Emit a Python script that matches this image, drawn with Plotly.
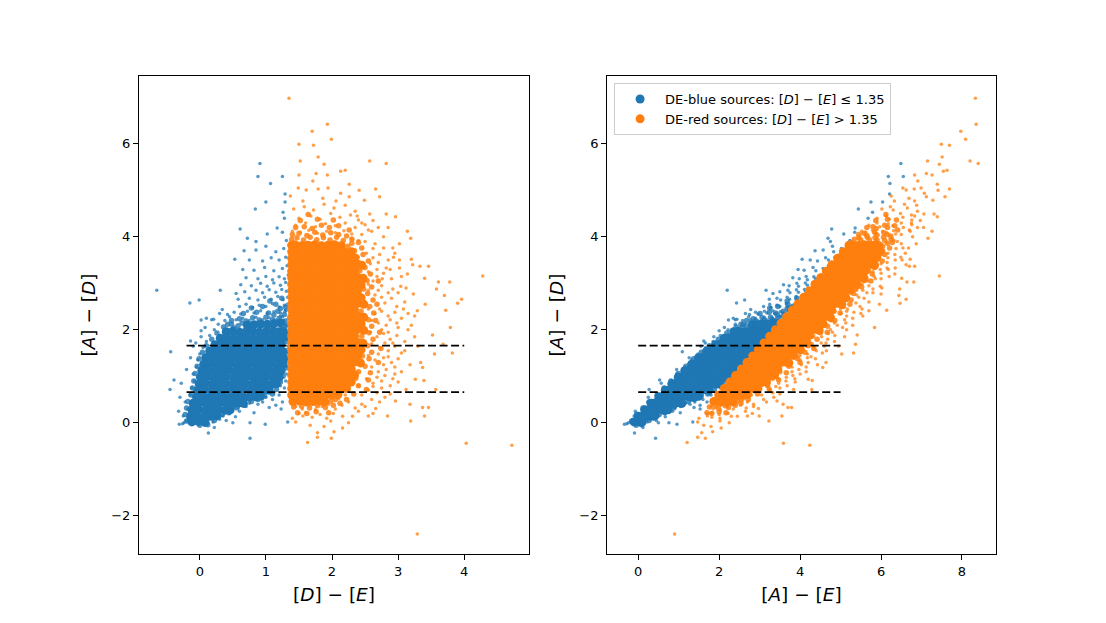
import plotly.graph_objects as go

# ---- data: (D-E, A-D) pairs; A-E = (A-D) + (D-E) ----
blue_core = [
    (0.72, 2.10), (0.82, 2.11), (0.92, 2.12), (1.02, 2.12), (1.12, 2.13), (1.22, 2.15),
    (0.40, 1.96), (0.50, 1.97), (0.60, 1.95), (0.70, 1.96), (0.80, 1.97), (0.90, 1.95), (1.00, 1.96), (1.10, 1.97), (1.19, 1.96), (1.26, 1.98),
    (0.31, 1.82), (0.41, 1.83), (0.51, 1.81), (0.61, 1.82), (0.71, 1.83), (0.81, 1.81), (0.91, 1.82), (1.01, 1.83), (1.11, 1.81), (1.21, 1.82), (1.27, 1.84),
    (0.23, 1.68), (0.33, 1.69), (0.43, 1.67), (0.53, 1.68), (0.63, 1.69), (0.73, 1.67), (0.83, 1.68), (0.93, 1.69), (1.03, 1.67), (1.13, 1.68), (1.23, 1.69),
    (0.15, 1.54), (0.25, 1.55), (0.35, 1.53), (0.45, 1.54), (0.55, 1.55), (0.65, 1.53), (0.75, 1.54), (0.85, 1.55), (0.95, 1.53), (1.05, 1.54), (1.15, 1.55), (1.25, 1.54),
    (0.09, 1.40), (0.19, 1.41), (0.29, 1.39), (0.39, 1.40), (0.49, 1.41), (0.59, 1.39), (0.69, 1.40), (0.79, 1.41), (0.89, 1.39), (0.99, 1.40), (1.09, 1.41), (1.19, 1.39), (1.27, 1.40),
    (0.06, 1.26), (0.16, 1.27), (0.26, 1.25), (0.36, 1.26), (0.46, 1.27), (0.56, 1.25), (0.66, 1.26), (0.76, 1.27), (0.86, 1.25), (0.96, 1.26), (1.06, 1.27), (1.16, 1.25), (1.26, 1.26),
    (0.03, 1.12), (0.13, 1.13), (0.23, 1.11), (0.33, 1.12), (0.43, 1.13), (0.53, 1.11), (0.63, 1.12), (0.73, 1.13), (0.83, 1.11), (0.93, 1.12), (1.03, 1.13), (1.13, 1.11), (1.23, 1.12),
    (0.01, 0.98), (0.11, 0.99), (0.21, 0.97), (0.31, 0.98), (0.41, 0.99), (0.51, 0.97), (0.61, 0.98), (0.71, 0.99), (0.81, 0.97), (0.91, 0.98), (1.01, 0.99), (1.11, 0.97), (1.20, 0.98),
    (-0.01, 0.84), (0.09, 0.85), (0.19, 0.83), (0.29, 0.84), (0.39, 0.85), (0.49, 0.83), (0.59, 0.84), (0.69, 0.85), (0.79, 0.83), (0.89, 0.84), (0.99, 0.85), (1.09, 0.83), (1.16, 0.84),
    (-0.03, 0.70), (0.07, 0.71), (0.17, 0.69), (0.27, 0.70), (0.37, 0.71), (0.47, 0.69), (0.57, 0.70), (0.67, 0.71), (0.77, 0.69), (0.87, 0.70), (0.97, 0.71), (1.05, 0.70),
    (-0.05, 0.56), (0.05, 0.57), (0.15, 0.55), (0.25, 0.56), (0.35, 0.57), (0.45, 0.55), (0.55, 0.56), (0.65, 0.57), (0.75, 0.55), (0.85, 0.56), (0.92, 0.57),
    (-0.10, 0.42), (0.00, 0.43), (0.10, 0.41), (0.20, 0.42), (0.30, 0.43), (0.40, 0.41), (0.50, 0.42), (0.60, 0.43), (0.66, 0.42),
    (-0.12, 0.28), (-0.02, 0.29), (0.08, 0.27), (0.18, 0.28), (0.28, 0.29), (0.38, 0.27), (0.46, 0.28),
    (-0.14, 0.14), (-0.04, 0.15), (0.06, 0.13), (0.16, 0.14), (0.26, 0.15),
    (-0.12, 0.02), (-0.02, 0.03), (0.08, 0.01),
]

blue_mid = [
    (0.48, 2.12), (0.58, 2.09), (0.64, 2.15), (0.52, 2.04),
    (0.48, 2.20), (0.60, 2.24), (0.70, 2.19), (0.80, 2.26), (0.90, 2.21), (1.00, 2.27), (1.10, 2.22), (1.20, 2.25),
    (1.29, 2.19), (0.66, 2.35), (0.86, 2.38), (1.04, 2.36), (1.18, 2.40), (1.28, 2.33), (0.95, 2.50), (1.15, 2.55),
    (1.30, 2.48), (0.78, 2.47), (1.24, 2.68), (1.06, 2.62), (1.31, 2.10), (1.31, 1.95), (1.31, 1.75), (1.31, 1.55),
    (1.31, 1.35), (1.30, 1.18), (1.12, 2.32), (1.22, 2.46),
    (0.36, 2.06), (0.26, 1.93), (0.18, 1.80), (0.10, 1.66), (0.04, 1.52), (-0.01, 1.38), (-0.04, 1.22), (-0.07, 1.06),
    (-0.09, 0.90), (-0.11, 0.75), (-0.13, 0.60), (-0.18, 0.46), (-0.20, 0.32), (-0.22, 0.18), (-0.20, 0.04), (0.42, 2.12),
    (0.00, -0.05), (0.12, -0.04), (0.22, 0.05), (0.34, 0.18), (0.44, 0.22), (0.56, 0.32), (0.68, 0.38), (0.78, 0.46),
    (0.88, 0.50), (0.98, 0.58), (1.10, 0.62), (1.16, 0.72), (1.22, 0.88), (1.26, 1.00), (0.20, 0.12), (0.52, 0.36),
]

blue_pts = [
    (-0.20, 0.05), (-0.25, 0.15), (-0.18, 0.30), (-0.22, 0.45), (-0.15, 0.60), (-0.12, 0.75), (-0.08, 0.90),
    (-0.10, 1.05), (-0.05, 1.20), (-0.03, 1.35), (0.00, 1.48), (0.05, 1.62), (0.10, 1.75), (0.15, 1.88),
    (0.22, 2.00), (0.28, 2.12), (0.38, 2.20), (0.45, 2.28), (-0.30, 0.55), (-0.28, 0.85), (-0.20, 1.15),
    (-0.14, 1.40), (-0.10, 1.65), (0.02, 1.85), (0.08, 2.05), (0.18, 2.22), (0.30, 2.35), (-0.14, 1.76),
    (-0.06, 1.72), (0.02, 1.98), (0.10, 2.25), (0.21, 2.23), (0.34, 2.44), (0.42, 2.33), (0.02, 2.21),
    (-0.26, -0.02), (-0.31, -0.03), (-0.24, 0.00), (0.22, -0.10), (0.13, -0.22), (0.76, -0.33), (0.50, 0.00),
    (0.76, 0.00), (0.99, -0.03), (1.33, 0.02), (1.23, 0.30), (1.05, 0.33), (0.82, 0.22), (0.54, 0.13),
    (0.40, 0.05), (0.35, 0.15), (0.60, 0.25), (0.70, 0.35), (0.95, 0.45), (1.10, 0.50), (1.20, 0.60),
    (1.28, 0.75), (1.30, 0.90), (1.25, 0.45), (1.15, 0.38), (0.88, 0.40), (0.75, 0.42), (0.58, 0.33),
    (0.45, 0.20), (0.30, 0.08), (0.20, 0.02), (1.00, 0.55), (1.12, 0.65), (1.22, 0.80),
    (1.31, 1.05), (1.33, 1.20), (1.30, 1.35), (1.32, 1.50), (1.34, 1.65), (1.31, 1.80), (1.33, 1.95),
    (1.30, 2.10), (1.34, 2.25), (1.29, 2.40), (1.32, 2.55), (1.27, 2.20), (1.22, 2.30), (1.18, 2.15),
    (-0.65, 2.85), (-0.44, 1.53), (-0.39, 0.92), (-0.45, 0.72), (-0.15, 2.58), (-0.01, 2.64), (0.31, 2.85),
    (-0.32, 0.25),
    (0.55, 2.22), (0.65, 2.25), (0.75, 2.20), (0.85, 2.27), (0.95, 2.22), (1.05, 2.26), (1.15, 2.21), (1.25, 2.28),
    (0.52, 2.38), (0.62, 2.34), (0.72, 2.40), (0.82, 2.36), (0.92, 2.41), (1.02, 2.35), (1.12, 2.39), (1.22, 2.36), (1.30, 2.42),
    (0.60, 2.50), (0.70, 2.55), (0.80, 2.48), (0.90, 2.53), (1.00, 2.50), (1.10, 2.56), (1.20, 2.49), (1.28, 2.53),
    (0.58, 2.66), (0.75, 2.68), (0.88, 2.64), (0.98, 2.70), (1.08, 2.66), (1.18, 2.72), (1.26, 2.65), (1.33, 2.70),
    (0.55, 2.78), (0.68, 2.82), (0.85, 2.85), (0.95, 2.80), (1.05, 2.86), (1.15, 2.81), (1.24, 2.87), (1.31, 2.83),
    (0.62, 2.97), (0.78, 2.95), (0.92, 3.00), (1.02, 2.94), (1.12, 3.01), (1.22, 2.96), (1.30, 3.02),
    (0.70, 3.12), (0.88, 3.10), (1.00, 3.15), (1.10, 3.08), (1.20, 3.14), (1.28, 3.10), (1.34, 3.18),
    (0.65, 3.30), (0.82, 3.28), (0.98, 3.34), (1.12, 3.27), (1.25, 3.32), (1.32, 3.38),
    (0.53, 3.52), (0.75, 3.50), (0.95, 3.48), (1.08, 3.55), (1.20, 3.50), (1.30, 3.56),
    (0.67, 3.70), (0.85, 3.72), (1.00, 3.80), (1.15, 3.68), (1.27, 3.75),
    (0.72, 3.97), (0.85, 3.90), (1.02, 4.06), (1.17, 4.19), (1.25, 4.10), (1.31, 3.92), (0.61, 4.17),
    (0.84, 4.60), (1.00, 4.75), (1.26, 4.53), (1.28, 4.40), (1.29, 4.75), (1.29, 4.92), (1.07, 5.15),
    (0.88, 5.30), (1.25, 5.30), (0.91, 5.58),
]

red_core = [
    (1.39, 3.82), (1.44, 3.83), (1.54, 3.81), (1.64, 3.82), (1.74, 3.83), (1.84, 3.81), (1.94, 3.82), (2.04, 3.83), (2.14, 3.81),
    (1.39, 3.68), (1.49, 3.69), (1.59, 3.67), (1.69, 3.68), (1.79, 3.69), (1.89, 3.67), (1.99, 3.68), (2.09, 3.69), (2.19, 3.67), (2.29, 3.68),
    (1.39, 3.54), (1.44, 3.55), (1.54, 3.53), (1.64, 3.54), (1.74, 3.55), (1.84, 3.53), (1.94, 3.54), (2.04, 3.55), (2.14, 3.53), (2.24, 3.54), (2.34, 3.55),
    (1.39, 3.40), (1.49, 3.41), (1.59, 3.39), (1.69, 3.40), (1.79, 3.41), (1.89, 3.39), (1.99, 3.40), (2.09, 3.41), (2.19, 3.39), (2.29, 3.40), (2.39, 3.41), (2.45, 3.39),
    (1.39, 3.26), (1.44, 3.27), (1.54, 3.25), (1.64, 3.26), (1.74, 3.27), (1.84, 3.25), (1.94, 3.26), (2.04, 3.27), (2.14, 3.25), (2.24, 3.26), (2.34, 3.27),
    (1.39, 3.12), (1.49, 3.13), (1.59, 3.11), (1.69, 3.12), (1.79, 3.13), (1.89, 3.11), (1.99, 3.12), (2.09, 3.13), (2.19, 3.11), (2.29, 3.12), (2.39, 3.13), (2.47, 3.11),
    (1.39, 2.98), (1.44, 2.99), (1.54, 2.97), (1.64, 2.98), (1.74, 2.99), (1.84, 2.97), (1.94, 2.98), (2.04, 2.99), (2.14, 2.97), (2.24, 2.98), (2.34, 2.99), (2.44, 2.97),
    (1.39, 2.84), (1.49, 2.85), (1.59, 2.83), (1.69, 2.84), (1.79, 2.85), (1.89, 2.83), (1.99, 2.84), (2.09, 2.85), (2.19, 2.83), (2.29, 2.84), (2.39, 2.85),
    (1.39, 2.70), (1.44, 2.71), (1.54, 2.69), (1.64, 2.70), (1.74, 2.71), (1.84, 2.69), (1.94, 2.70), (2.04, 2.71), (2.14, 2.69), (2.24, 2.70), (2.34, 2.71), (2.44, 2.69),
    (1.39, 2.56), (1.49, 2.57), (1.59, 2.55), (1.69, 2.56), (1.79, 2.57), (1.89, 2.55), (1.99, 2.56), (2.09, 2.57), (2.19, 2.55), (2.29, 2.56), (2.39, 2.57), (2.48, 2.55),
    (1.39, 2.42), (1.44, 2.43), (1.54, 2.41), (1.64, 2.42), (1.74, 2.43), (1.84, 2.41), (1.94, 2.42), (2.04, 2.43), (2.14, 2.41), (2.24, 2.42), (2.34, 2.43),
    (1.39, 2.28), (1.49, 2.29), (1.59, 2.27), (1.69, 2.28), (1.79, 2.29), (1.89, 2.27), (1.99, 2.28), (2.09, 2.29), (2.19, 2.27), (2.29, 2.28), (2.39, 2.29), (2.48, 2.27),
    (1.39, 2.14), (1.44, 2.15), (1.54, 2.13), (1.64, 2.14), (1.74, 2.15), (1.84, 2.13), (1.94, 2.14), (2.04, 2.15), (2.14, 2.13), (2.24, 2.14), (2.34, 2.15), (2.44, 2.13),
    (1.39, 2.00), (1.49, 2.01), (1.59, 1.99), (1.69, 2.00), (1.79, 2.01), (1.89, 1.99), (1.99, 2.00), (2.09, 2.01), (2.19, 1.99), (2.29, 2.00), (2.39, 2.01), (2.48, 1.99),
    (1.39, 1.86), (1.44, 1.87), (1.54, 1.85), (1.64, 1.86), (1.74, 1.87), (1.84, 1.85), (1.94, 1.86), (2.04, 1.87), (2.14, 1.85), (2.24, 1.86), (2.34, 1.87),
    (1.39, 1.72), (1.49, 1.73), (1.59, 1.71), (1.69, 1.72), (1.79, 1.73), (1.89, 1.71), (1.99, 1.72), (2.09, 1.73), (2.19, 1.71), (2.29, 1.72), (2.39, 1.73), (2.47, 1.71),
    (1.39, 1.58), (1.44, 1.59), (1.54, 1.57), (1.64, 1.58), (1.74, 1.59), (1.84, 1.57), (1.94, 1.58), (2.04, 1.59), (2.14, 1.57), (2.24, 1.58), (2.34, 1.59), (2.44, 1.57),
    (1.39, 1.44), (1.49, 1.45), (1.59, 1.43), (1.69, 1.44), (1.79, 1.45), (1.89, 1.43), (1.99, 1.44), (2.09, 1.45), (2.19, 1.43), (2.29, 1.44), (2.39, 1.45),
    (1.39, 1.30), (1.44, 1.31), (1.54, 1.29), (1.64, 1.30), (1.74, 1.31), (1.84, 1.29), (1.94, 1.30), (2.04, 1.31), (2.14, 1.29), (2.24, 1.30), (2.34, 1.31), (2.43, 1.29),
    (1.39, 1.16), (1.49, 1.17), (1.59, 1.15), (1.69, 1.16), (1.79, 1.17), (1.89, 1.15), (1.99, 1.16), (2.09, 1.17), (2.19, 1.15), (2.29, 1.16),
    (1.39, 1.02), (1.44, 1.03), (1.54, 1.01), (1.64, 1.02), (1.74, 1.03), (1.84, 1.01), (1.94, 1.02), (2.04, 1.03), (2.14, 1.01), (2.24, 1.02), (2.34, 1.03),
    (1.39, 0.88), (1.49, 0.89), (1.59, 0.87), (1.69, 0.88), (1.79, 0.89), (1.89, 0.87), (1.99, 0.88), (2.09, 0.89), (2.19, 0.87), (2.29, 0.88),
    (1.39, 0.74), (1.44, 0.75), (1.54, 0.73), (1.64, 0.74), (1.74, 0.75), (1.84, 0.73), (1.94, 0.74), (2.04, 0.75), (2.14, 0.73), (2.22, 0.74),
    (1.39, 0.60), (1.49, 0.61), (1.59, 0.59), (1.69, 0.60), (1.79, 0.61), (1.89, 0.59), (1.99, 0.60), (2.09, 0.61),
    (1.41, 0.46), (1.51, 0.47), (1.61, 0.45), (1.71, 0.46), (1.81, 0.47), (1.89, 0.45),
]

red_mid = [
    (2.52, 0.72), (2.55, 0.92), (2.58, 1.08), (2.50, 1.22), (2.56, 1.38), (2.60, 1.52), (2.54, 1.66), (2.62, 1.80),
    (2.56, 1.94), (2.60, 2.08), (2.55, 2.22), (2.63, 2.36), (2.57, 2.50), (2.62, 2.64), (2.54, 2.78), (2.60, 2.92),
    (2.53, 3.06), (2.58, 3.20), (2.50, 3.34), (2.55, 3.48), (2.47, 3.62), (2.45, 3.76), (2.40, 3.88), (2.70, 1.30),
    (2.72, 1.95), (2.68, 2.55), (2.70, 3.05), (2.66, 2.20), (2.74, 1.60), (2.40, 1.10), (2.36, 0.96), (2.40, 0.80),
    (2.33, 0.62), (2.22, 0.50), (2.44, 2.40), (2.45, 1.86), (2.48, 2.88), (2.42, 3.27), (2.46, 1.44),
    (2.24, 3.80), (2.34, 3.70), (2.38, 3.56), (2.30, 3.86),
    (1.39, 3.95), (1.47, 3.98), (1.57, 3.93), (1.67, 3.99), (1.77, 3.94), (1.87, 3.98), (1.97, 3.93), (2.07, 3.99), (2.17, 3.92),
    (1.40, 4.05), (1.50, 4.08), (1.62, 4.03), (1.74, 4.10), (1.86, 4.04), (1.98, 4.09), (2.10, 4.05), (2.22, 4.02),
    (2.30, 3.95), (1.45, 4.20), (1.58, 4.22), (1.70, 4.18), (1.84, 4.25), (1.96, 4.20), (2.10, 4.24), (1.52, 4.35),
    (1.78, 4.38), (2.02, 4.36), (1.64, 4.48), (2.26, 4.15),
    (1.42, 0.34), (1.54, 0.36), (1.66, 0.32), (1.78, 0.37), (1.90, 0.33), (2.02, 0.38), (2.12, 0.42), (1.48, 0.22),
    (1.62, 0.20), (1.76, 0.24), (1.95, 0.22), (2.05, 0.50), (1.98, 0.47),
]

red_pts = [
    (1.45, 4.25), (1.60, 4.30), (1.75, 4.22), (1.90, 4.28), (2.05, 4.24), (2.20, 4.30), (2.35, 4.20), (2.50, 4.26),
    (1.40, 4.12), (1.52, 4.10), (1.65, 4.14), (1.78, 4.08), (1.92, 4.12), (2.05, 4.09), (2.18, 4.13), (2.30, 4.06),
    (1.50, 4.40), (1.68, 4.45), (1.82, 4.38), (1.98, 4.50), (2.12, 4.42), (2.28, 4.47), (2.40, 4.36), (2.57, 4.49),
    (2.82, 4.49), (2.96, 4.43), (1.42, 4.60), (1.58, 4.65), (1.72, 4.58), (1.88, 4.70), (2.03, 4.62), (2.20, 4.68),
    (2.35, 4.55), (1.37, 4.88), (1.56, 4.77), (1.86, 4.83), (2.06, 4.77), (2.26, 4.86), (2.49, 4.79), (2.72, 4.86),
    (1.49, 5.05), (1.61, 5.01), (1.79, 5.03), (1.94, 5.05), (2.13, 4.94), (2.41, 5.00), (2.66, 5.03), (2.26, 5.13),
    (1.71, 5.20), (1.50, 5.33), (1.93, 5.33), (1.76, 5.36), (2.13, 5.41), (2.20, 5.43), (1.52, 5.63), (2.57, 5.63),
    (2.82, 5.58), (1.88, 5.56), (1.79, 5.72), (1.50, 5.99), (1.72, 5.97), (1.99, 6.10), (1.70, 6.27), (1.93, 6.42),
    (1.35, 6.98),
    (2.45, 4.05), (2.60, 4.12), (2.78, 4.00), (3.14, 4.12), (2.40, 3.92), (2.30, 3.97),
    (2.50, 3.90), (2.65, 3.85), (2.78, 3.76), (2.92, 3.76), (3.02, 3.85), (3.19, 3.97),
    (2.52, 3.65), (2.62, 3.55), (2.72, 3.62), (2.85, 3.50), (2.93, 3.56), (3.02, 3.50), (3.20, 3.52),
    (3.33, 3.37), (3.46, 3.37), (2.82, 3.33), (3.02, 3.33), (2.58, 3.42), (2.68, 3.30),
    (2.55, 3.25), (2.68, 3.15), (2.78, 3.22), (2.90, 3.10), (3.14, 3.20), (3.40, 3.11), (3.61, 3.03),
    (3.78, 3.03), (4.28, 3.16), (2.62, 3.05), (2.75, 2.95), (3.04, 2.94), (2.92, 2.88), (2.55, 2.98),
    (2.55, 2.85), (2.65, 2.75), (2.75, 2.70), (2.85, 2.80), (3.23, 2.77), (3.58, 2.88), (3.70, 2.74),
    (3.96, 2.66), (3.90, 2.57), (3.72, 2.42), (3.41, 2.55), (3.29, 2.41), (3.10, 2.60), (2.98, 2.50),
    (2.55, 2.45), (2.65, 2.35), (2.75, 2.40), (2.85, 2.30), (2.95, 2.38), (3.05, 2.25), (3.15, 2.35),
    (2.60, 2.20), (2.70, 2.15), (2.82, 2.10), (3.00, 2.05), (3.20, 2.10), (3.79, 2.05), (3.52, 1.89),
    (2.58, 1.95), (2.68, 1.85), (2.78, 1.92), (2.88, 1.80), (2.98, 1.88), (3.10, 1.75), (3.25, 1.85),
    (3.68, 1.69), (3.55, 1.48), (3.82, 1.50), (2.60, 1.70), (2.72, 1.62), (2.85, 1.55), (2.95, 1.65),
    (3.05, 1.50), (2.55, 1.45), (2.65, 1.35), (2.78, 1.40), (2.90, 1.30), (3.00, 1.38), (3.34, 1.30),
    (3.37, 1.19), (2.60, 1.20), (2.70, 1.10), (2.82, 1.15), (2.95, 1.05), (3.26, 0.94), (3.39, 0.91),
    (3.12, 0.72), (3.57, 0.72), (2.52, 0.95), (2.62, 0.85), (2.75, 0.90), (2.88, 0.80), (3.00, 0.88),
    (2.55, 0.70), (2.68, 0.65), (2.80, 0.55), (2.96, 0.47), (2.66, 0.31), (3.18, 0.40), (3.37, 0.33),
    (3.46, 0.33), (2.84, 0.15), (3.19, 0.04), (3.40, 0.15), (2.55, 0.15), (2.45, 0.60), (2.40, 0.80),
    (2.62, 3.75), (2.70, 3.45), (2.76, 3.10), (2.88, 3.30), (2.95, 3.65), (2.70, 2.85), (2.80, 2.58),
    (2.90, 2.68), (3.00, 2.80), (2.72, 2.45), (2.88, 2.22), (2.98, 2.15), (2.75, 2.00), (2.85, 1.95),
    (2.92, 1.72), (2.80, 1.72), (2.70, 1.48), (2.85, 1.42), (2.95, 1.20), (2.78, 1.25), (2.68, 0.98),
    (2.80, 1.02), (2.92, 0.95), (2.62, 0.78), (2.75, 0.75), (2.88, 0.62), (2.60, 0.50), (2.72, 0.45),
    (3.05, 1.10), (3.10, 1.55), (3.15, 2.00), (3.08, 2.45), (3.12, 2.90), (3.05, 3.15), (3.22, 3.40),
    (3.25, 2.30), (3.30, 1.65), (3.18, 1.25), (2.50, 0.35), (2.62, 0.20), (2.45, 4.30), (2.62, 4.35),
    (2.70, 4.20), (2.55, 4.15), (2.38, 4.45), (2.85, 4.20),
    (1.45, 0.35), (1.55, 0.30), (1.65, 0.38), (1.75, 0.28), (1.85, 0.35), (1.95, 0.40), (2.05, 0.30),
    (2.15, 0.38), (2.25, 0.45), (2.35, 0.32), (2.45, 0.40), (1.50, 0.20), (1.60, 0.22), (1.70, 0.12),
    (1.82, 0.18), (1.92, 0.10), (2.02, 0.20), (2.16, 0.14), (2.31, 0.14), (2.40, 0.25), (1.40, 0.10),
    (1.56, 0.15), (1.98, 0.04), (1.67, -0.05), (2.16, -0.11), (2.03, -0.19), (1.78, -0.21), (1.78, -0.31),
    (1.99, -0.33), (1.63, -0.42), (1.45, 0.02), (2.25, 0.00), (1.88, -0.08), (2.10, 0.52), (2.20, 0.60),
    (4.03, -0.44), (4.72, -0.48), (3.29, -2.39),
]

cut_levels = [0.66, 1.66]
left_cut_x = [-0.2, 4.0]
right_cut_x = [0.0, 5.0]
left_xticks = [0, 1, 2, 3, 4]
right_xticks = [0, 2, 4, 6, 8]
yticks = [-2, 0, 2, 4, 6]

BLUE = "#1f77b4"
ORANGE = "#ff7f0e"
names = {
    "blue": "DE-blue sources: [<i>D</i>] − [<i>E</i>] ≤ 1.35",
    "red": "DE-red sources: [<i>D</i>] − [<i>E</i>] > 1.35",
}


def cols(pts):
    de = [p[0] for p in pts]
    ad = [p[1] for p in pts]
    ae = [p[0] + p[1] for p in pts]
    return de, ad, ae


fig = go.Figure()
groups = [
    ("blue", blue_core, BLUE, 9, 1.0, True),
    ("blue", blue_mid, BLUE, 5.5, 0.8, False),
    ("blue", blue_pts, BLUE, 3.5, 0.75, False),
    ("red", red_core, ORANGE, 9, 1.0, True),
    ("red", red_mid, ORANGE, 5.5, 0.85, False),
    ("red", red_pts, ORANGE, 3.5, 0.75, False),
]
for panel in (1, 2):
    for key, pts, color, size, op, is_core in groups:
        de, ad, ae = cols(pts)
        fig.add_trace(go.Scatter(
            x=de if panel == 1 else ae, y=ad,
            mode="markers",
            marker=dict(color=color, size=size, opacity=op, line=dict(width=0)),
            name=names[key],
            showlegend=(panel == 1 and is_core),
            xaxis="x" if panel == 1 else "x2",
            yaxis="y" if panel == 1 else "y2",
            hoverinfo="skip",
        ))

for panel, xr in ((1, left_cut_x), (2, right_cut_x)):
    lx, ly = [], []
    for lev in cut_levels:
        lx += [xr[0], xr[1], None]
        ly += [lev, lev, None]
    fig.add_trace(go.Scatter(
        x=lx, y=ly, mode="lines",
        line=dict(color="black", width=1.8, dash="8px,3.5px"),
        showlegend=False, hoverinfo="skip",
        xaxis="x" if panel == 1 else "x2",
        yaxis="y" if panel == 1 else "y2",
    ))

axis_common = dict(
    showline=True, mirror=True, linecolor="black", linewidth=1,
    ticks="outside", ticklen=5, tickwidth=1, tickcolor="black",
    showgrid=False, zeroline=False,
    tickfont=dict(size=13, color="black"),
    automargin=False,
)
title_font = dict(size=18.5, color="black")

# domains compensate for the 7px page offset of the rendered figure
fig.update_layout(
    width=1106, height=623,
    margin=dict(l=0, r=0, t=0, b=0),
    paper_bgcolor="white", plot_bgcolor="white",
    font=dict(family="DejaVu Sans", color="black"),
    hovermode=False,
    xaxis=dict(domain=[0.1184, 0.4711], range=[-0.92, 4.98], tickvals=left_xticks,
               title=dict(text="[<i>D</i>] − [<i>E</i>]", font=title_font, standoff=10),
               anchor="y", **axis_common),
    yaxis=dict(domain=[0.1236, 0.8909], range=[-2.82, 7.46], tickvals=yticks,
               title=dict(text="[<i>A</i>] − [<i>D</i>]", font=title_font, standoff=10),
               anchor="x", **axis_common),
    xaxis2=dict(domain=[0.5416, 0.8933], range=[-0.77, 8.84], tickvals=right_xticks,
                title=dict(text="[<i>A</i>] − [<i>E</i>]", font=title_font, standoff=10),
                anchor="y2", **axis_common),
    yaxis2=dict(domain=[0.1236, 0.8909], range=[-2.82, 7.46], tickvals=yticks,
                title=dict(text="[<i>A</i>] − [<i>D</i>]", font=title_font, standoff=10),
                anchor="x2", **axis_common),
    legend=dict(x=0.548, y=0.8796, xanchor="left", yanchor="top",
                bgcolor="rgba(255,255,255,0.85)", bordercolor="#cccccc", borderwidth=1,
                font=dict(size=13, color="black"), itemsizing="trace", itemwidth=40),
)

fig.write_html("out.html")
